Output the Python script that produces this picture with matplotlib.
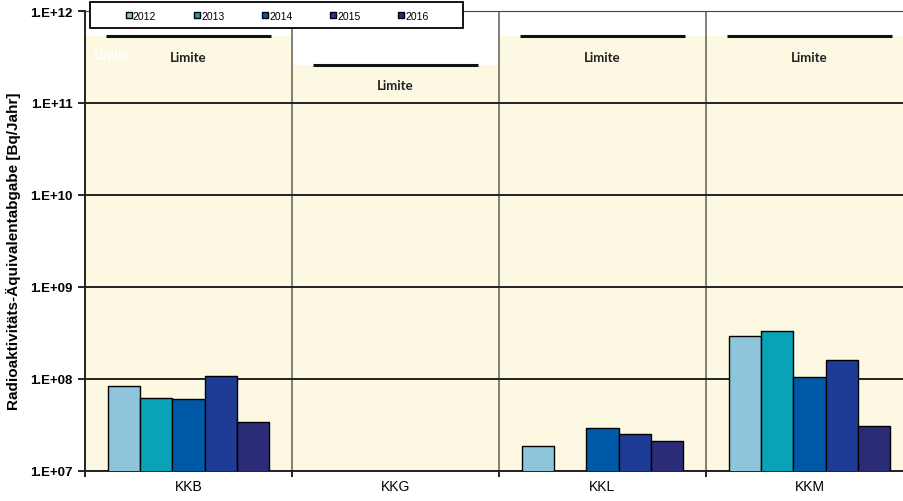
import matplotlib.pyplot as plt
from matplotlib.patches import Rectangle
import numpy as np

plt.rcParams['font.family'] = ['Liberation Sans', 'DejaVu Sans']

sites = ['KKB', 'KKG', 'KKL', 'KKM']
years = ['2012', '2013', '2014', '2015', '2016']
colors = ['#8fc5da', '#0aa2b6', '#0059a6', '#1e3c95', '#2b2b78']

# Bq/Jahr per year, nan = no bar
vals_2012 = [8.4e7, np.nan, 1.87e7, 2.9e8]
vals_2013 = [6.2e7, np.nan, np.nan, 3.3e8]
vals_2014 = [6.0e7, np.nan, 2.95e7, 1.05e8]
vals_2015 = [1.08e8, np.nan, 2.5e7, 1.6e8]
vals_2016 = [3.4e7, np.nan, 2.1e7, 3.1e7]
series = [vals_2012, vals_2013, vals_2014, vals_2015, vals_2016]

limits = [5.3e11, 2.6e11, 5.3e11, 5.3e11]
limit_label = 'Limite'

FIGSIZE = (9.04, 5.02)
BEIGE = '#fcf8e2'

fig = plt.figure(figsize=FIGSIZE, dpi=100)
ax = fig.add_axes([85 / 904, 1 - 472 / 502, 828 / 904, 460 / 502])
ax.set_yscale('log')

x = np.arange(len(sites)) + 0.5

# beige zone below each limit
ax.bar(x, limits, width=1.0, color=BEIGE, zorder=0)

bw = 0.155
for i, (vals, col, yr) in enumerate(zip(series, colors, years)):
    ax.bar(x + (i - 2) * bw, vals, width=bw, color=col,
           edgecolor='black', linewidth=1.0, label=yr, zorder=3)

ax.set_ylim(1e7, 1e12)
ax.set_xlim(0, len(sites))

# limit lines + labels
for xi, lim in zip(x, limits):
    ax.hlines(lim, xi - 0.40, xi + 0.40, color='#111111', linewidth=2.2, zorder=4)
    ax.text(xi, lim / 10 ** 0.22, limit_label, ha='center', va='center',
            fontsize=9.5, fontweight='bold', family='Lato', color='#222222', zorder=4)
# faint ghost label seen in the first panel
ax.text(x[0] - 0.37, limits[0] / 10 ** 0.2, limit_label, ha='center', va='center',
        fontsize=9.5, fontweight='bold', family='Lato', color='white', zorder=4)

ax.grid(axis='y', which='major', color='#222222', linewidth=1.4, zorder=1)
for b in range(1, len(sites)):
    ax.axvline(b, color='#6b6b60', linewidth=1.2, zorder=1)
ax.minorticks_off()

ax.set_yticks([1e7, 1e8, 1e9, 1e10, 1e11, 1e12])
ax.set_yticklabels(['1.E+07', '1.E+08', '1.E+09', '1.E+10', '1.E+11', '1.E+12'])
ax.set_xticks(np.arange(len(sites) + 1), minor=False)
ax.set_xticklabels([])
ax.set_xticks(x, minor=True)
ax.set_xticklabels(sites, minor=True)
ax.tick_params(axis='x', which='minor', length=0, labelsize=10, pad=6)
ax.tick_params(axis='x', which='major', length=4, width=1.2, direction='out')
ax.tick_params(axis='y', length=5, width=1.2, labelsize=9.5, pad=4)
for lab in ax.get_yticklabels():
    lab.set_fontweight('bold')

ax.spines['top'].set_color('#444444')
ax.spines['right'].set_visible(False)
ax.spines['left'].set_color('#222222')
ax.spines['left'].set_linewidth(1.4)
ax.spines['bottom'].set_color('#222222')
ax.spines['bottom'].set_linewidth(1.4)

ax.set_ylabel('Radioaktivitäts-Äquivalentabgabe [Bq/Jahr]', fontsize=11,
              fontweight='bold')
ax.yaxis.set_label_coords(-64 / 828, 0.48)

# legend: frame box drawn separately, entries centered inside
box = Rectangle((90 / 904, 1 - 29 / 502), 373 / 904, 26 / 502, transform=fig.transFigure,
                facecolor='white', edgecolor='black', linewidth=1.3, zorder=9)
fig.patches.append(box)
handles, labels = ax.get_legend_handles_labels()
leg = fig.legend(handles, labels, loc='center', ncol=5,
                 bbox_to_anchor=(277 / 904, 1 - 16.5 / 502),
                 fontsize=7.5, frameon=False, handlelength=0.6, handleheight=0.6,
                 handletextpad=0.1, columnspacing=3.6, borderaxespad=0)
leg.set_zorder(10)

fig.savefig('out.png', dpi=100)
